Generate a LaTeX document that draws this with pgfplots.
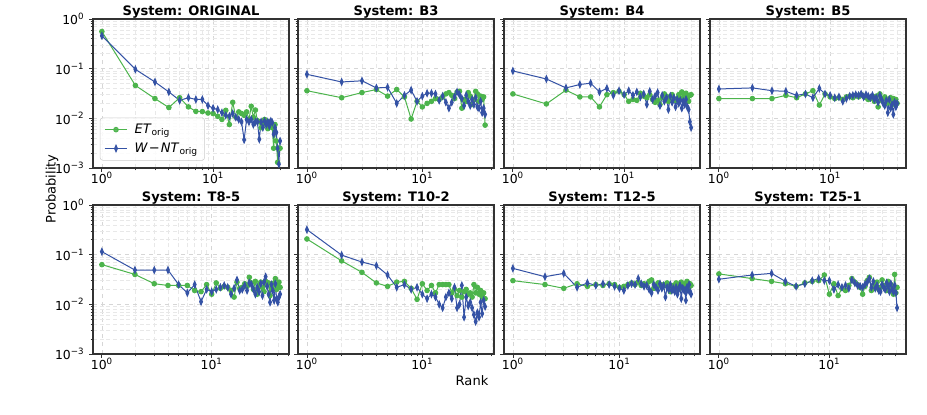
\documentclass[border=0pt]{standalone}
\usepackage{pgfplots}
\pgfplotsset{compat=1.18}
\usepackage{pgfplotstable}
\usepackage{fontspec}
\setmainfont{DejaVu Sans}

\definecolor{etgreen}{RGB}{76,180,76}
\definecolor{ntblue}{RGB}{52,82,165}

% rank-probability tables, one per system: rank, ET_orig, W-NT_orig
\pgfplotstableread{
rank et wnt
1 0.56 0.46
2 0.046 0.097
3 0.025 0.054
4 0.0165 0.034
5 0.026 0.023
6 0.017 0.026
7 0.0138 0.024
8 0.0137 0.024
9 0.0128 0.018
10 0.0125 0.016
11 0.011 0.015
12 0.0095 0.013
13 0.0145 0.0115
14 0.0075 0.011
15 0.021 0.0125
16 0.0105 0.0105
17 0.0135 0.0095
18 0.0125 0.0085
19 0.0115 0.0037
20 0.0135 0.0095
21 0.0095 0.0085
22 0.0175 0.0095
23 0.0105 0.0075
24 0.0147 0.0085
25 0.009 0.0085
26 0.0085 0.0038
27 0.0065 0.0085
28 0.0075 0.0065
29 0.0095 0.0088
30 0.0085 0.0075
31 0.0062 0.0085
32 0.0085 0.007
33 0.0075 0.0088
34 0.0065 0.0082
35 0.0025 0.0048
36 0.0075 0.0065
37 0.0035 0.0052
38 0.0013 0.0025
39 0.0025 0.0012
40 0.0025 0.0035
}\tblORIG

\pgfplotstableread{
rank et wnt
1 0.036 0.077
2 0.026 0.054
3 0.033 0.057
4 0.038 0.041
5 0.028 0.042
6 0.038 0.020
7 0.027 0.029
8 0.0097 0.037
9 0.022 0.022
10 0.017 0.028
11 0.020 0.032
12 0.022 0.032
13 0.025 0.031
14 0.024 0.023
15 0.027 0.028
16 0.031 0.021
17 0.033 0.016
18 0.029 0.021
19 0.025 0.027
20 0.034 0.034
21 0.035 0.030
22 0.016 0.025
23 0.024 0.018
24 0.022 0.029
25 0.033 0.022
26 0.028 0.018
27 0.019 0.024
28 0.024 0.019
29 0.035 0.026
30 0.031 0.017
31 0.022 0.016
32 0.028 0.022
33 0.024 0.013
34 0.027 0.016
35 0.0073 0.012
}\tblBiii

\pgfplotstableread{
rank et wnt
1 0.031 0.090
2 0.0195 0.062
3 0.037 0.041
4 0.027 0.048
5 0.027 0.051
6 0.017 0.034
7 0.030 0.040
8 0.033 0.029
9 0.035 0.036
10 0.030 0.030
11 0.022 0.036
12 0.024 0.029
13 0.023 0.034
14 0.032 0.027
15 0.028 0.031
16 0.026 0.019
17 0.030 0.035
18 0.024 0.024
19 0.021 0.028
20 0.023 0.033
21 0.019 0.018
22 0.026 0.029
23 0.031 0.022
24 0.028 0.026
25 0.022 0.015
26 0.027 0.028
27 0.030 0.021
28 0.024 0.026
29 0.023 0.017
30 0.025 0.024
31 0.030 0.020
32 0.026 0.023
33 0.034 0.016
34 0.025 0.022
35 0.028 0.019
36 0.032 0.024
37 0.026 0.017
38 0.022 0.015
39 0.029 0.0085
40 0.030 0.0065
}\tblBiv

\pgfplotstableread{
rank et wnt
1 0.025 0.039
2 0.025 0.041
3 0.025 0.036
4 0.029 0.035
5 0.026 0.029
6 0.031 0.031
7 0.036 0.026
8 0.0185 0.040
9 0.031 0.031
10 0.027 0.029
11 0.025 0.026
12 0.026 0.027
13 0.024 0.022
14 0.027 0.025
15 0.028 0.028
16 0.026 0.029
17 0.029 0.030
18 0.027 0.029
19 0.030 0.031
20 0.028 0.027
21 0.026 0.030
22 0.024 0.028
23 0.025 0.026
24 0.027 0.029
25 0.022 0.024
26 0.028 0.026
27 0.017 0.021
28 0.031 0.029
29 0.023 0.024
30 0.025 0.020
31 0.027 0.018
32 0.020 0.023
33 0.024 0.013
34 0.022 0.024
35 0.026 0.016
36 0.019 0.019
37 0.025 0.012
38 0.021 0.021
39 0.024 0.017
40 0.020 0.020
}\tblBv

\pgfplotstableread{
rank et wnt
1 0.063 0.115
2 0.040 0.049
3 0.026 0.049
4 0.024 0.049
5 0.024 0.025
6 0.024 0.017
7 0.019 0.025
8 0.018 0.0113
9 0.025 0.020
10 0.016 0.018
11 0.027 0.020
12 0.021 0.022
13 0.023 0.024
14 0.022 0.022
15 0.019 0.016
16 0.014 0.021
17 0.028 0.031
18 0.021 0.019
19 0.022 0.020
20 0.026 0.024
21 0.023 0.019
22 0.035 0.027
23 0.027 0.025
24 0.020 0.020
25 0.029 0.016
26 0.016 0.022
27 0.024 0.018
28 0.028 0.026
29 0.022 0.015
30 0.018 0.028
31 0.029 0.036
32 0.025 0.023
33 0.027 0.016
34 0.015 0.011
35 0.021 0.025
36 0.024 0.019
37 0.027 0.012
38 0.033 0.026
39 0.020 0.013
40 0.025 0.011
41 0.028 0.014
42 0.022 0.016
}\tblTviii

\pgfplotstableread{
rank et wnt
1 0.207 0.32
2 0.075 0.098
3 0.044 0.071
4 0.027 0.060
5 0.023 0.039
6 0.028 0.022
7 0.029 0.025
8 0.021 0.020
9 0.0126 0.022
10 0.026 0.016
11 0.019 0.013
12 0.024 0.016
13 0.017 0.014
14 0.025 0.010
15 0.025 0.0085
16 0.025 0.014
17 0.025 0.017
18 0.017 0.013
19 0.020 0.022
20 0.015 0.0085
21 0.019 0.010
22 0.014 0.024
23 0.018 0.0055
24 0.020 0.014
25 0.016 0.0093
26 0.017 0.011
27 0.014 0.0085
28 0.025 0.0062
29 0.017 0.0045
30 0.022 0.0068
31 0.016 0.0055
32 0.019 0.011
33 0.014 0.0065
34 0.017 0.012
35 0.013 0.009
}\tblTx

\pgfplotstableread{
rank et wnt
1 0.030 0.053
2 0.025 0.036
3 0.021 0.042
4 0.026 0.022
5 0.023 0.027
6 0.025 0.024
7 0.024 0.026
8 0.026 0.025
9 0.025 0.023
10 0.022 0.021
11 0.023 0.019
12 0.025 0.024
13 0.027 0.026
14 0.025 0.025
15 0.028 0.033
16 0.024 0.026
17 0.026 0.023
18 0.025 0.024
19 0.029 0.020
20 0.031 0.017
21 0.021 0.025
22 0.024 0.022
23 0.027 0.019
24 0.025 0.026
25 0.022 0.021
26 0.025 0.024
27 0.024 0.014
28 0.027 0.022
29 0.025 0.020
30 0.018 0.025
31 0.023 0.019
32 0.024 0.021
33 0.020 0.018
34 0.027 0.022
35 0.025 0.016
36 0.021 0.020
37 0.026 0.024
38 0.028 0.013
39 0.024 0.021
40 0.023 0.020
41 0.020 0.019
42 0.026 0.012
43 0.029 0.022
44 0.024 0.019
45 0.022 0.025
46 0.026 0.018
47 0.024 0.016
}\tblTxii

\pgfplotstableread{
rank et wnt
1 0.041 0.032
2 0.033 0.039
3 0.029 0.042
4 0.026 0.029
5 0.023 0.023
6 0.027 0.026
7 0.029 0.030
8 0.030 0.033
9 0.039 0.030
10 0.016 0.030
11 0.026 0.020
12 0.015 0.025
13 0.021 0.022
14 0.019 0.024
15 0.024 0.021
16 0.033 0.031
17 0.028 0.027
18 0.025 0.024
19 0.022 0.023
20 0.016 0.022
21 0.023 0.025
22 0.030 0.028
23 0.035 0.033
24 0.019 0.022
25 0.021 0.029
26 0.024 0.021
27 0.028 0.024
28 0.020 0.019
29 0.022 0.018
30 0.031 0.025
31 0.024 0.022
32 0.021 0.020
33 0.019 0.027
34 0.029 0.023
35 0.023 0.018
36 0.025 0.026
37 0.020 0.020
38 0.016 0.018
39 0.040 0.024
40 0.017 0.017
41 0.022 0.0085
}\tblTxxv

\pgfplotsset{
  panel/.style={
    anchor=north west,
    scale only axis, width=147pt, height=111.75pt,
    ymin=1e-3, ymax=1,
    xtick={1,10},
    xticklabels={10\textsuperscript{0},10\textsuperscript{1}},
    minor xtick={2,3,4,5,6,7,8,9,20,30,40,50},
    ytick={0.001,0.01,0.1,1},
    yticklabels={},
    minor ytick={0.002,0.003,0.004,0.005,0.006,0.007,0.008,0.009,
                 0.02,0.03,0.04,0.05,0.06,0.07,0.08,0.09,
                 0.2,0.3,0.4,0.5,0.6,0.7,0.8,0.9},
    grid=both,
    major grid style={black!16, dashed, line width=0.5pt},
    minor grid style={black!9, densely dashed, line width=0.4pt},
    tick pos=left, tick align=outside,
    major tick length=3pt, minor tick length=1.8pt,
    every tick/.style={black!80, line width=0.6pt},
    axis line style={black!80, line width=0.9pt},
    tick label style={font=\fontsize{9.3}{11}\selectfont},
    xticklabel style={yshift=3.5pt},
  },
  % panel heading, set on its baseline just above the frame
  systitle/.style={after end axis/.append code={
    \node[anchor=base, inner sep=0pt, yshift=2.5pt,
      font=\bfseries\fontsize{9.8}{11}\selectfont]
      at (rel axis cs:0.5,1) {System: #1};}},
  ylab/.style={yticklabels={10\textsuperscript{−3},10\textsuperscript{−2},10\textsuperscript{−1},10\textsuperscript{0}}},
  etline/.style={etgreen, line width=0.75pt, mark=*, mark size=1.7pt, mark options={solid}},
  ntline/.style={ntblue, line width=0.75pt, mark=diamond*, mark size=2.4pt, mark options={solid, xscale=0.6}},
}

\begin{document}
\begin{tikzpicture}
\path[use as bounding box] (0pt,0pt) rectangle (695.25pt,-310.5pt);

% top row
\begin{loglogaxis}[panel, at={(69.75pt,-14.25pt)}, ylab, xmin=0.832, xmax=48.1,
  systitle={ORIGINAL},
  legend style={at={(0.035,0.05)}, anchor=south west, draw=black!20,
    rounded corners=2pt, fill=white, fill opacity=0.85, text opacity=1,
    font=\fontsize{9.8}{12}\selectfont, row sep=1.5pt, column sep=3pt,
    inner xsep=3pt, inner ysep=2.5pt, cells={anchor=west}}]
\addplot[etline] table[x=rank, y=et] {\tblORIG};
\addlegendentry{\textit{ET}\textsubscript{orig}}
\addplot[ntline] table[x=rank, y=wnt] {\tblORIG};
\addlegendentry{\textit{W}\kern0.8pt−\kern0.8pt\textit{NT}\textsubscript{orig}}
\end{loglogaxis}

\begin{loglogaxis}[panel, at={(223.5pt,-14.25pt)}, xmin=0.837, xmax=41.8, systitle={B3}]
\addplot[etline] table[x=rank, y=et] {\tblBiii};
\addplot[ntline] table[x=rank, y=wnt] {\tblBiii};
\end{loglogaxis}

\begin{loglogaxis}[panel, at={(378pt,-14.25pt)}, xmin=0.832, xmax=48.1, systitle={B4}]
\addplot[etline] table[x=rank, y=et] {\tblBiv};
\addplot[ntline] table[x=rank, y=wnt] {\tblBiv};
\end{loglogaxis}

\begin{loglogaxis}[panel, at={(532.5pt,-14.25pt)}, xmin=0.832, xmax=48.1, systitle={B5}]
\addplot[etline] table[x=rank, y=et] {\tblBv};
\addplot[ntline] table[x=rank, y=wnt] {\tblBv};
\end{loglogaxis}

% bottom row
\begin{loglogaxis}[panel, at={(69.75pt,-153.75pt)}, ylab, xmin=0.830, xmax=50.6, systitle={T8-5}]
\addplot[etline] table[x=rank, y=et] {\tblTviii};
\addplot[ntline] table[x=rank, y=wnt] {\tblTviii};
\end{loglogaxis}

\begin{loglogaxis}[panel, at={(223.5pt,-153.75pt)}, xmin=0.837, xmax=41.8, systitle={T10-2}]
\addplot[etline] table[x=rank, y=et] {\tblTx};
\addplot[ntline] table[x=rank, y=wnt] {\tblTx};
\end{loglogaxis}

\begin{loglogaxis}[panel, at={(378pt,-153.75pt)}, xmin=0.825, xmax=57.0, systitle={T12-5}]
\addplot[etline] table[x=rank, y=et] {\tblTxii};
\addplot[ntline] table[x=rank, y=wnt] {\tblTxii};
\end{loglogaxis}

\begin{loglogaxis}[panel, at={(532.5pt,-153.75pt)}, xmin=0.831, xmax=49.4, systitle={T25-1}]
\addplot[etline] table[x=rank, y=et] {\tblTxxv};
\addplot[ntline] table[x=rank, y=wnt] {\tblTxxv};
\end{loglogaxis}

% shared axis labels
\node[rotate=90, font=\fontsize{9.8}{12}\selectfont] at (39pt,-141.75pt) {Probability};
\node[font=\fontsize{9.8}{12}\selectfont] at (354pt,-285.5pt) {Rank};
\end{tikzpicture}
\end{document}
